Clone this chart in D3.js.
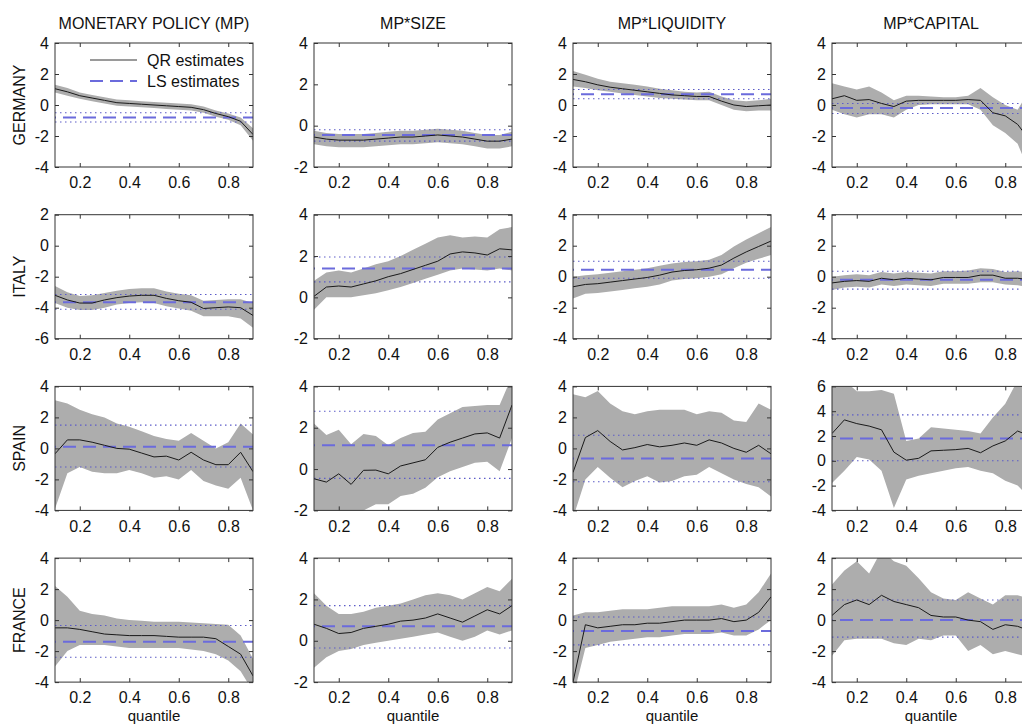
<!DOCTYPE html>
<html>
<head>
<meta charset="utf-8">
<script src="https://cdn.jsdelivr.net/npm/d3@7"></script>
<style>
body { margin: 0; background: #fff; }
svg { display: block; font-family: "Liberation Sans", Arial, sans-serif; }
.tick text { font-size: 16px; fill: #111; }
.tick line { stroke: #333; }
</style>
</head>
<body>
<div id="chart"></div>
<script>
// quantiles at which the QR estimates are evaluated
const quantiles = [0.10, 0.15, 0.20, 0.25, 0.30, 0.35, 0.40, 0.45, 0.50, 0.55, 0.60, 0.65, 0.70, 0.75, 0.80, 0.85, 0.90];
const xTicks = [0.2, 0.4, 0.6, 0.8];
const columnTitles = ['MONETARY POLICY (MP)', 'MP*SIZE', 'MP*LIQUIDITY', 'MP*CAPITAL'];
const countries = ['GERMANY', 'ITALY', 'SPAIN', 'FRANCE'];

// y limits for every panel, row = country, column = variable
const yLimits = [
    [[-4, 4], [-2, 4], [-4, 4], [-4, 4]],
    [[-6, 2], [-2, 4], [-4, 4], [-4, 4]],
    [[-4, 4], [-2, 4], [-4, 4], [-4, 6]],
    [[-4, 4], [-2, 4], [-4, 4], [-4, 4]]
];

// GERMANY
const qrGermany = [
    [1.05, 0.85, 0.6, 0.45, 0.3, 0.15, 0.1, 0.05, 0.0, -0.05, -0.1, -0.15, -0.3, -0.55, -0.75, -1.05, -1.9],
    [-0.55, -0.65, -0.7, -0.7, -0.7, -0.65, -0.6, -0.55, -0.55, -0.5, -0.45, -0.5, -0.55, -0.65, -0.75, -0.75, -0.65],
    [1.65, 1.5, 1.3, 1.15, 1.05, 0.95, 0.85, 0.75, 0.65, 0.6, 0.55, 0.55, 0.25, 0.0, -0.1, -0.05, 0.0],
    [0.4, 0.6, 0.3, 0.35, 0.1, -0.1, 0.25, 0.3, 0.3, 0.3, 0.3, 0.35, 0.3, -0.5, -0.7, -1.25, -2.3]
];
const loGermany = [
    [0.8, 0.6, 0.4, 0.25, 0.1, -0.05, -0.1, -0.15, -0.2, -0.25, -0.3, -0.35, -0.5, -0.75, -0.95, -1.3, -2.3],
    [-0.9, -1.0, -1.05, -1.05, -1.05, -1.0, -0.95, -0.9, -0.9, -0.85, -0.8, -0.85, -0.9, -1.0, -1.1, -1.1, -1.0],
    [1.2, 1.1, 0.95, 0.85, 0.75, 0.65, 0.55, 0.45, 0.4, 0.35, 0.3, 0.3, 0.0, -0.3, -0.4, -0.35, -0.35],
    [-0.3, -0.6, -0.8, -0.6, -0.6, -0.8, -0.3, 0.0, 0.05, 0.05, 0.05, 0.05, -0.3, -1.3, -1.8, -2.5, -4.4]
];
const hiGermany = [
    [1.3, 1.1, 0.8, 0.65, 0.5, 0.35, 0.3, 0.25, 0.2, 0.15, 0.1, 0.05, -0.1, -0.35, -0.55, -0.8, -1.5],
    [-0.25, -0.35, -0.4, -0.4, -0.4, -0.35, -0.3, -0.25, -0.25, -0.2, -0.15, -0.2, -0.25, -0.35, -0.45, -0.45, -0.3],
    [2.2, 1.95, 1.7, 1.5, 1.4, 1.3, 1.2, 1.05, 0.95, 0.85, 0.8, 0.85, 0.55, 0.3, 0.25, 0.3, 0.4],
    [1.4, 1.2, 1.0, 1.2, 0.8, 0.3, 0.6, 0.6, 0.55, 0.5, 0.5, 0.6, 1.1, 0.5, 0.0, -0.3, 1.0]
];
// LS estimate, lower bound, upper bound
const lsGermany = [[-0.8, -1.1, -0.5], [-0.45, -0.75, -0.2], [0.7, 0.4, 1.0], [-0.2, -0.55, 0.1]];

// ITALY
const qrItaly = [
    [-3.2, -3.5, -3.7, -3.7, -3.5, -3.35, -3.25, -3.2, -3.2, -3.4, -3.55, -3.65, -4.05, -4.0, -3.95, -4.0, -4.5],
    [0.05, 0.5, 0.55, 0.5, 0.65, 0.8, 1.0, 1.15, 1.35, 1.55, 1.75, 2.1, 2.2, 2.15, 2.05, 2.35, 2.3],
    [-0.65, -0.5, -0.45, -0.35, -0.25, -0.15, -0.05, 0.1, 0.3, 0.4, 0.45, 0.55, 0.75, 1.2, 1.6, 1.95, 2.3],
    [-0.4, -0.3, -0.25, -0.3, -0.1, -0.2, -0.1, -0.15, -0.2, -0.05, -0.05, -0.05, 0.1, 0.1, -0.1, -0.1, -0.2]
];
const loItaly = [
    [-3.7, -4.0, -4.15, -4.15, -4.0, -3.8, -3.7, -3.65, -3.7, -3.9, -4.05, -4.2, -4.55, -4.55, -4.55, -4.7, -5.3],
    [-0.6, 0.0, 0.0, 0.0, 0.1, 0.2, 0.35, 0.5, 0.7, 0.9, 1.1, 1.3, 1.4, 1.35, 1.3, 1.4, 1.3],
    [-1.4, -1.1, -1.05, -0.95, -0.85, -0.75, -0.65, -0.5, -0.25, -0.15, -0.1, 0.0, 0.15, 0.55, 0.9, 1.15, 1.4],
    [-0.85, -0.7, -0.65, -0.7, -0.5, -0.6, -0.5, -0.55, -0.6, -0.45, -0.45, -0.45, -0.35, -0.35, -0.5, -0.55, -0.7]
];
const hiItaly = [
    [-2.6, -3.0, -3.25, -3.2, -3.05, -2.9, -2.8, -2.75, -2.75, -2.95, -3.1, -3.2, -3.55, -3.5, -3.45, -3.45, -3.7],
    [0.8, 1.2, 1.3, 1.2, 1.4, 1.6, 1.75, 2.0, 2.3, 2.6, 2.9, 3.0, 2.9, 2.95, 2.9, 3.3, 3.4],
    [0.0, 0.1, 0.15, 0.25, 0.35, 0.45, 0.55, 0.7, 0.85, 0.95, 1.0, 1.1, 1.4, 1.95, 2.4, 2.8, 3.2],
    [0.0, 0.1, 0.15, 0.1, 0.3, 0.2, 0.3, 0.25, 0.2, 0.35, 0.35, 0.4, 0.55, 0.5, 0.3, 0.35, 0.25]
];
const lsItaly = [[-3.65, -4.1, -3.15], [1.4, 0.75, 1.95], [0.45, -0.1, 1.0], [-0.2, -0.8, 0.35]];

// SPAIN
const qrSpain = [
    [-0.35, 0.55, 0.55, 0.4, 0.2, 0.0, -0.05, -0.3, -0.55, -0.5, -0.75, -0.25, -0.75, -1.05, -1.05, -0.25, -1.5],
    [-0.47, -0.63, -0.23, -0.74, -0.06, -0.05, -0.23, 0.15, 0.3, 0.45, 1.05, 1.3, 1.5, 1.7, 1.75, 1.5, 3.1],
    [-1.55, 0.7, 1.15, 0.45, -0.1, 0.05, 0.25, 0.1, 0.2, 0.35, 0.2, 0.55, 0.35, 0.0, -0.25, 0.2, -0.35],
    [2.2, 3.3, 3.0, 2.8, 2.5, 0.7, 0.05, 0.2, 0.8, 0.85, 0.9, 1.0, 0.65, 1.2, 1.6, 2.4, 2.0]
];
const loSpain = [
    [-3.9, -1.6, -1.2, -1.5, -1.6, -1.6, -1.4, -1.6, -1.9, -1.8, -2.0, -1.4, -2.1, -2.4, -2.6, -1.9, -4.0],
    [-2.0, -2.8, -2.3, -2.8, -2.0, -1.7, -1.7, -1.3, -1.2, -0.9, -0.4, -0.1, 0.1, 0.3, 0.35, -0.1, 1.5],
    [-4.5, -2.0, -1.2, -1.9, -2.5, -2.1, -1.8, -2.2, -2.1, -1.8, -1.7, -1.2, -1.6, -2.0, -2.3, -2.5, -3.1],
    [-1.8, -0.8, 0.3, 0.1, -0.8, -3.8, -1.5, -1.2, -1.0, -0.8, -0.6, -0.5, -0.8, -1.0, -1.6, -2.0, -3.0]
];
const hiSpain = [
    [3.1, 2.9, 2.5, 2.2, 2.0, 1.6, 1.4, 1.1, 0.8, 0.6, 0.5, 1.0, 0.5, 0.0, 0.4, 1.6, 0.9],
    [2.2, 1.65, 1.9, 1.2, 1.7, 1.6, 1.15, 1.5, 1.75, 1.8, 2.4, 2.7, 3.0, 3.05, 3.1, 3.1, 4.5],
    [3.5, 3.3, 3.7, 2.9, 2.4, 2.2, 2.4, 2.5, 2.5, 2.5, 2.2, 2.4, 2.3, 1.8, 1.7, 2.9, 2.5],
    [6.2, 6.5, 5.6, 5.6, 5.7, 5.4, 1.6, 1.8, 2.7, 2.6, 2.5, 2.4, 2.2, 3.5, 4.6, 6.5, 7.0]
];
const lsSpain = [[0.1, -1.2, 1.5], [1.15, -0.45, 2.8], [-0.65, -2.15, 0.85], [1.8, 0.0, 3.7]];

// FRANCE
const qrFrance = [
    [-0.5, -0.5, -0.6, -0.75, -0.9, -0.95, -1.0, -1.0, -1.0, -1.05, -1.1, -1.1, -1.1, -1.2, -1.7, -2.2, -3.6],
    [0.8, 0.6, 0.35, 0.4, 0.6, 0.7, 0.8, 0.95, 1.0, 1.1, 1.3, 1.1, 0.9, 1.2, 1.5, 1.3, 1.7],
    [-4.0, -0.3, -0.5, -0.4, -0.3, -0.3, -0.2, -0.2, -0.1, 0.0, 0.0, 0.0, 0.1, -0.1, 0.0, 0.5, 1.5],
    [0.3, 1.0, 1.3, 1.0, 1.6, 1.2, 1.0, 0.8, 0.3, 0.2, 0.2, 0.0, -0.1, -0.6, -0.3, -0.4, -0.7]
];
const loFrance = [
    [-3.0, -2.0, -1.6, -1.6, -1.6, -1.7, -1.8, -1.8, -1.8, -1.8, -1.8, -1.9, -2.0, -2.2, -2.6, -3.3, -4.6],
    [-1.3, -0.8, -0.5, -0.4, -0.2, -0.1, 0.0, 0.1, 0.2, 0.3, 0.4, 0.2, 0.0, 0.2, 0.5, 0.3, 0.5],
    [-5.0, -1.8, -1.6, -1.4, -1.3, -1.2, -1.1, -1.1, -1.0, -0.9, -0.9, -0.9, -0.8, -1.0, -1.0, -0.6, 0.0],
    [-2.3, -1.3, -1.2, -1.2, -1.2, -1.5, -1.6, -1.2, -1.3, -1.0, -1.0, -2.0, -1.6, -2.2, -2.0, -2.2, -2.4]
];
const hiFrance = [
    [2.2, 1.5, 0.6, 0.4, 0.3, 0.1, 0.0, -0.05, -0.1, -0.1, -0.1, -0.15, -0.2, -0.25, -0.3, -1.0, -2.5],
    [2.3, 1.7, 1.3, 1.3, 1.4, 1.6, 1.7, 1.8, 2.0, 2.2, 2.3, 2.2, 2.0, 2.3, 2.6, 2.4, 3.0],
    [0.3, 0.5, 0.5, 0.6, 0.7, 0.7, 0.7, 0.8, 0.9, 0.9, 0.9, 0.9, 1.0, 0.8, 1.0, 1.8, 3.0],
    [2.3, 3.2, 3.8, 3.0, 4.5, 3.8, 3.5, 2.7, 1.8, 1.4, 1.3, 1.8, 1.4, 1.0, 1.6, 1.6, 1.4]
];
const lsFrance = [[-1.4, -2.4, -0.35], [0.7, -0.35, 1.7], [-0.7, -1.6, 0.2], [0.0, -1.1, 1.3]];

const qrAll = [qrGermany, qrItaly, qrSpain, qrFrance];
const loAll = [loGermany, loItaly, loSpain, loFrance];
const hiAll = [hiGermany, hiItaly, hiSpain, hiFrance];
const lsAll = [lsGermany, lsItaly, lsSpain, lsFrance];

const size = { width: 1022, height: 726 };
const panel = { left: 55, top: 43, width: 198, height: 124, stepX: 259, stepY: 171.7 };

const colors = {
    band: '#adadad',
    qr: '#1a1a1a',
    ls: '#6b6bdc',
    lsBound: '#5c5cc8',
    frame: '#333'
};

const svg = d3.select('#chart')
    .append('svg')
    .attr('width', size.width)
    .attr('height', size.height);

countries.forEach((country, r) => {
    columnTitles.forEach((title, c) => {
        const px = panel.left + c * panel.stepX;
        const py = panel.top + r * panel.stepY;

        const g = svg.append('g')
            .attr('transform', `translate(${px}, ${py})`);

        const x = d3.scaleLinear().domain([0.1, 0.9]).range([0, panel.width]);
        const y = d3.scaleLinear().domain(yLimits[r][c]).range([panel.height, 0]);
        const yTicks = d3.range(yLimits[r][c][0], yLimits[r][c][1] + 0.01, 2);

        const clipId = `clip-${r}-${c}`;
        g.append('clipPath').attr('id', clipId)
            .append('rect')
            .attr('width', panel.width)
            .attr('height', panel.height);

        const plot = g.append('g').attr('clip-path', `url(#${clipId})`);

        const qr = qrAll[r][c];
        const lo = loAll[r][c];
        const hi = hiAll[r][c];
        const ls = lsAll[r][c];

        const rows = quantiles.map((q, i) => ({ q: q, est: qr[i], lo: lo[i], hi: hi[i] }));

        const band = d3.area()
            .x(d => x(d.q))
            .y0(d => y(d.lo))
            .y1(d => y(d.hi));

        plot.append('path')
            .datum(rows)
            .attr('d', band)
            .attr('fill', colors.band);

        // LS bounds (dotted) and LS estimate (dashed)
        [ls[1], ls[2]].forEach(v => {
            plot.append('line')
                .attr('x1', x(0.1)).attr('x2', x(0.9))
                .attr('y1', y(v)).attr('y2', y(v))
                .attr('stroke', colors.lsBound)
                .attr('stroke-width', 1.1)
                .attr('stroke-dasharray', '1.5,3.5');
        });

        plot.append('line')
            .attr('x1', x(0.1)).attr('x2', x(0.9))
            .attr('y1', y(ls[0])).attr('y2', y(ls[0]))
            .attr('stroke', colors.ls)
            .attr('stroke-width', 2)
            .attr('stroke-dasharray', '13,7')
            .attr('stroke-dashoffset', -8);

        const line = d3.line()
            .x(d => x(d.q))
            .y(d => y(d.est));

        plot.append('path')
            .datum(rows)
            .attr('d', line)
            .attr('fill', 'none')
            .attr('stroke', colors.qr)
            .attr('stroke-width', 1);

        // axes with inward ticks on all four sides, like a boxed plot
        const left = g.append('g')
            .call(d3.axisLeft(y).tickValues(yTicks).tickSizeInner(-4).tickSizeOuter(0).tickPadding(6).tickFormat(d => String(d)));
        const right = g.append('g')
            .attr('transform', `translate(${panel.width}, 0)`)
            .call(d3.axisRight(y).tickValues(yTicks).tickSizeInner(-4).tickSizeOuter(0).tickFormat(''));
        const bottom = g.append('g')
            .attr('transform', `translate(0, ${panel.height})`)
            .call(d3.axisBottom(x).tickValues(xTicks).tickSizeInner(-4).tickSizeOuter(0).tickPadding(10).tickFormat(d => d.toFixed(1)));
        const top = g.append('g')
            .call(d3.axisTop(x).tickValues(xTicks).tickSizeInner(-4).tickSizeOuter(0).tickFormat(''));

        [left, right, bottom, top].forEach(a => {
            a.select('.domain').remove();
            a.attr('font-family', null).attr('font-size', null);
        });

        g.append('rect')
            .attr('width', panel.width)
            .attr('height', panel.height)
            .attr('fill', 'none')
            .attr('stroke', colors.frame)
            .attr('stroke-width', 1);

        if (r === 0) {
            g.append('text')
                .attr('x', panel.width / 2)
                .attr('y', -14)
                .attr('text-anchor', 'middle')
                .style('font-size', '16px')
                .attr('fill', '#111')
                .text(title);
        }

        if (c === 0) {
            g.append('text')
                .attr('transform', `translate(${19 - px}, ${panel.height / 2}) rotate(-90)`)
                .attr('text-anchor', 'middle')
                .attr('dy', '0.35em')
                .style('font-size', '16px')
                .attr('fill', '#111')
                .text(country);
        }

        if (r === countries.length - 1) {
            g.append('text')
                .attr('x', panel.width / 2)
                .attr('y', panel.height + 39)
                .attr('text-anchor', 'middle')
                .style('font-size', '15px')
                .attr('fill', '#111')
                .text('quantile');
        }

        // legend lives in the first panel
        if (r === 0 && c === 0) {
            const legend = g.append('g').attr('transform', 'translate(35, 17)');
            legend.append('line')
                .attr('x1', 0).attr('x2', 47).attr('y1', 0).attr('y2', 0)
                .attr('stroke', '#9a9a9a').attr('stroke-width', 2);
            legend.append('text')
                .attr('x', 57).attr('y', 0).attr('dy', '0.35em')
                .style('font-size', '16px').attr('fill', '#111')
                .text('QR estimates');
            legend.append('line')
                .attr('x1', 0).attr('x2', 47).attr('y1', 21).attr('y2', 21)
                .attr('stroke', colors.ls).attr('stroke-width', 2)
                .attr('stroke-dasharray', '13,7');
            legend.append('text')
                .attr('x', 57).attr('y', 21).attr('dy', '0.35em')
                .style('font-size', '16px').attr('fill', '#111')
                .text('LS estimates');
        }
    });
});
</script>
</body>
</html>
